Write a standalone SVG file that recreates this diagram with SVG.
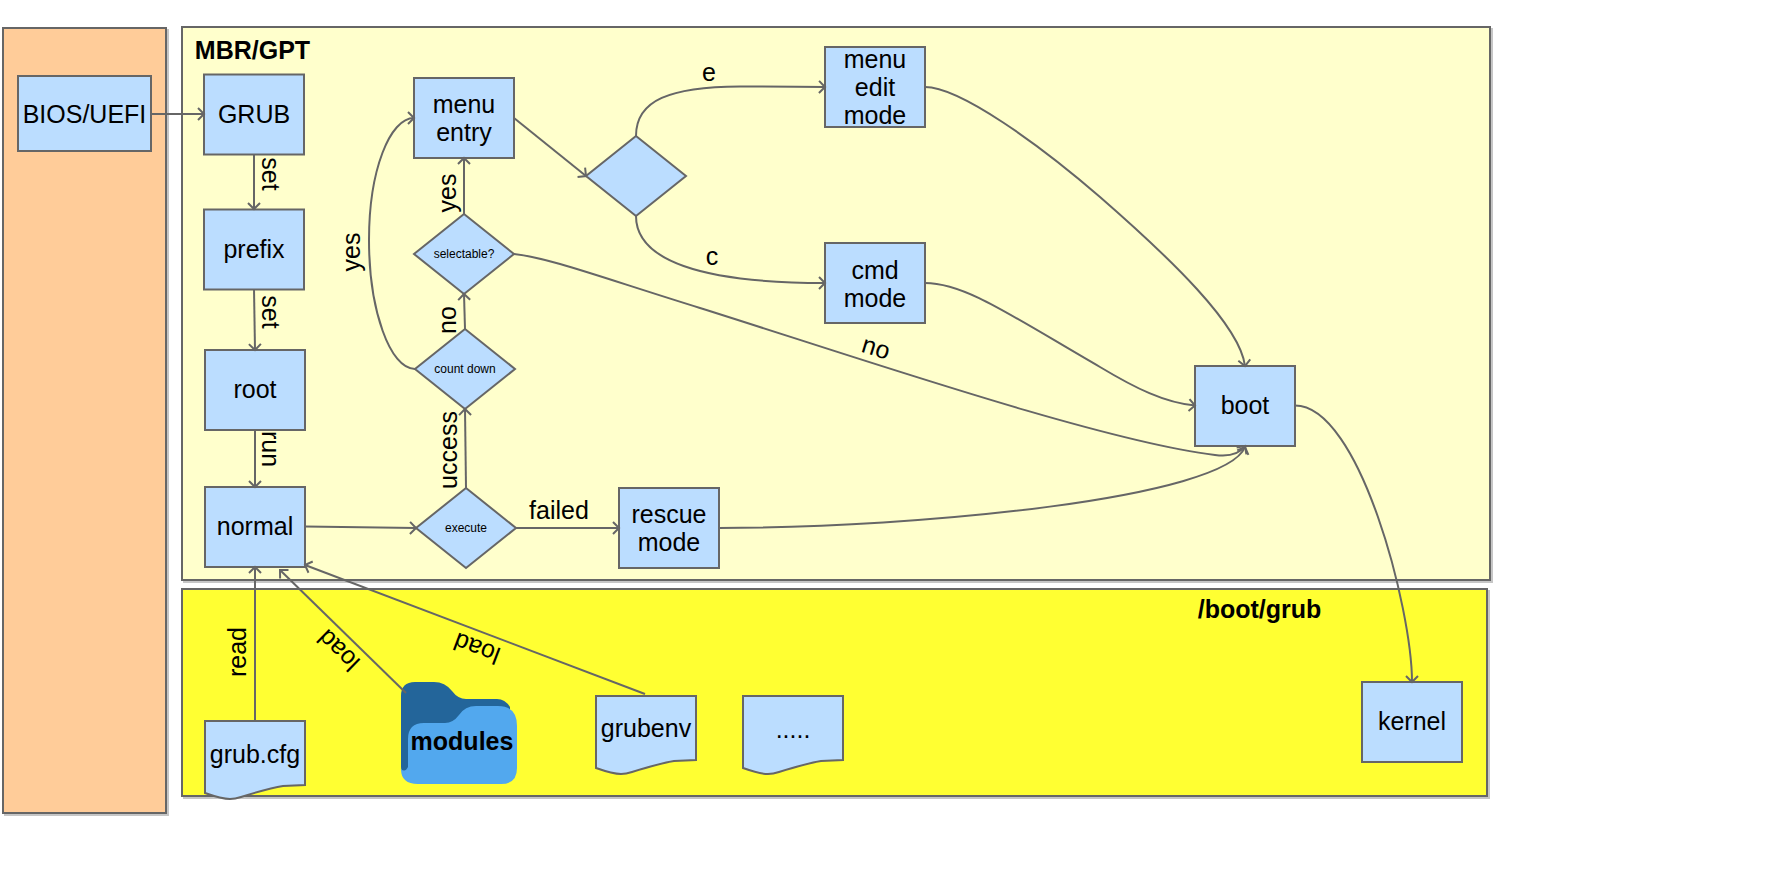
<svg xmlns="http://www.w3.org/2000/svg" width="1790" height="873" viewBox="0 0 1790 873">
<style>
text{font-family:"Liberation Sans",Arial,sans-serif;fill:#000;text-anchor:middle;font-size:25px}
.b{font-weight:bold}
.s{font-size:12px}
.n{fill:#bbddff;stroke:#666;stroke-width:2}
.c{stroke:#666;stroke-width:2;filter:url(#sh)}
.e{fill:none;stroke:#666;stroke-width:2}
.a{marker-end:url(#arr)}
</style>
<defs>
<filter id="sh" x="-5%" y="-5%" width="110%" height="110%">
<feDropShadow dx="2" dy="2" stdDeviation="0.4" flood-color="#808080" flood-opacity="0.45"/>
</filter>
<marker id="arr" markerUnits="userSpaceOnUse" markerWidth="14" markerHeight="14" refX="11" refY="7" orient="auto" overflow="visible">
<path d="M5,1 L11,7 L5,13" fill="none" stroke="#666" stroke-width="2"/>
</marker>
</defs>
<g id="bios-panel"><rect class="c" x="3" y="28" width="163" height="785" fill="#ffcc99"/></g>
<g id="mbr-panel"><rect class="c" x="182" y="27" width="1308" height="553" fill="#ffffcc"/><text class="b" x="252.5" y="59">MBR/GPT</text></g>
<g id="boot-panel"><rect class="c" x="182" y="589" width="1305" height="207" fill="#ffff33"/><text class="b" x="1259.5" y="618">/boot/grub</text></g>
<g id="bios"><rect class="n" x="18" y="76" width="133" height="75"/><text x="84.5" y="123">BIOS/UEFI</text></g>
<g id="grub"><rect class="n" x="204" y="74.5" width="100" height="80"/><text x="254" y="123">GRUB</text></g>
<g id="prefix"><rect class="n" x="204" y="209.5" width="100" height="80"/><text x="254" y="258">prefix</text></g>
<g id="root"><rect class="n" x="205" y="350" width="100" height="80"/><text x="255" y="398">root</text></g>
<g id="normal"><rect class="n" x="205" y="487" width="100" height="80"/><text x="255" y="535">normal</text></g>
<g id="menu-entry"><rect class="n" x="414" y="78" width="100" height="80"/><text x="464" y="113">menu</text><text x="464" y="141">entry</text></g>
<g id="selectable"><path class="n" d="M464,214 L514,254 L464,294 L414,254 Z"/><text class="s" x="464" y="258">selectable?</text></g>
<g id="count-down"><path class="n" d="M465,329 L515,369 L465,409 L415,369 Z"/><text class="s" x="465" y="373">count down</text></g>
<g id="execute"><path class="n" d="M466,488 L516,528 L466,568 L416,528 Z"/><text class="s" x="466" y="532">execute</text></g>
<g id="choice"><path class="n" d="M636,136 L686,176 L636,216 L586,176 Z"/></g>
<g id="rescue-mode"><rect class="n" x="619" y="488" width="100" height="80"/><text x="669" y="523">rescue</text><text x="669" y="551">mode</text></g>
<g id="menu-edit-mode"><rect class="n" x="825" y="47" width="100" height="80"/><text x="875" y="68">menu</text><text x="875" y="96">edit</text><text x="875" y="124">mode</text></g>
<g id="cmd-mode"><rect class="n" x="825" y="243" width="100" height="80"/><text x="875" y="279">cmd</text><text x="875" y="307">mode</text></g>
<g id="boot"><rect class="n" x="1195" y="366" width="100" height="80"/><text x="1245" y="414">boot</text></g>
<g id="kernel"><rect class="n" x="1362" y="682" width="100" height="80"/><text x="1412" y="730">kernel</text></g>
<g id="grub-cfg"><path class="n" d="M205,793 V721 H305 V785 L283,786 Q270,788 241,797 Q235,799 230,799 Q222,799 205,793 Z"/><text x="255" y="763">grub.cfg</text></g>
<g id="grubenv"><path class="n" d="M596,768 V696 H696 V760 L674,761 Q661,763 632,772 Q626,774 621,774 Q613,774 596,768 Z"/><text x="646" y="737">grubenv</text></g>
<g id="more"><path class="n" d="M743,768 V696 H843 V760 L821,761 Q808,763 779,772 Q773,774 768,774 Q760,774 743,768 Z"/><text x="793" y="738">.....</text></g>
<g id="modules">
<path fill="#23659a" d="M401,696 Q401,682 415,682 H434 Q445,682 452,691 Q458,699 466,699 H497 Q505,699 510,707 L510,741 L408,773 Q401,775 401,767 Z"/>
<path fill="#52a8ee" d="M408,739 Q408,723 424,723 H445 Q453,723 459,715 Q465,706 476,706 H498 Q517,706 517,726 V768 Q517,784 501,784 H418 Q401,784 401,769 Q405,773 408,767 Z"/>
<text class="b" x="462" y="750">modules</text></g>
<g id="connectors">
<path class="e a" d="M151,114 L204,114"/>
<path class="e a" d="M254,154 L254,209"/>
<path class="e a" d="M254,289 L255,350"/>
<path class="e a" d="M255,430 L255,487"/>
<path class="e a" d="M305,526.5 L416,528"/>
<path class="e a" d="M516,528 L619,528"/>
<path class="e a" d="M466,488 L465,409"/>
<path class="e a" d="M465,329 L464,294"/>
<path class="e a" d="M464,214 L464,158"/>
<path class="e a" d="M415,369 C390,369 369,310 369,240 C369,170 390,118 414,118"/>
<path class="e a" d="M514,118 L586,176"/>
<path class="e a" d="M636,136 C636,100 670,87 740,86.5 Q790,86.5 825,87"/>
<path class="e a" d="M636,216 C636,260 700,283 825,283"/>
<path class="e a" d="M925,87 C960,87 1040,145 1100,197 C1170,258 1240,325 1245,366"/>
<path class="e a" d="M925,283 C965,283 1010,315 1100,367 C1135,388 1165,403 1195,405.5"/>
<path class="e a" d="M514,254 C550,258 600,277 700,308 C850,355 1100,441 1215,455 C1230,457 1240,453 1245,446"/>
<path class="e a" d="M719,528 C920,528 1225,498 1245,447"/>
<path class="e a" d="M1295,405.5 C1360,405.5 1412,610 1412,682"/>
<path class="e a" d="M255,721 L255,567"/>
<path class="e a" d="M406,693 L280,570"/>
<path class="e a" d="M645,694 L305,565"/>
</g>
<g id="labels">
<text transform="translate(270,174) rotate(90)" y="8">set</text>
<text transform="translate(270,312) rotate(90)" y="8">set</text>
<text transform="translate(270,449) rotate(90)" y="8">run</text>
<text transform="translate(238,652) rotate(-90)" y="8">read</text>
<text transform="translate(339,650) rotate(224.3)" y="8">load</text>
<text transform="translate(477,648) rotate(200.6)" y="8">load</text>
<text transform="translate(448,193) rotate(-90)" y="8">yes</text>
<text transform="translate(448,320) rotate(-90)" y="8">no</text>
<text transform="translate(449,450) rotate(-90)" y="8">uccess</text>
<text transform="translate(352,252) rotate(-90)" y="8">yes</text>
<text x="709" y="81">e</text>
<text x="712" y="265">c</text>
<text transform="translate(876,348) rotate(17)" y="8">no</text>
<text x="559" y="519">failed</text>
</g>
</svg>
